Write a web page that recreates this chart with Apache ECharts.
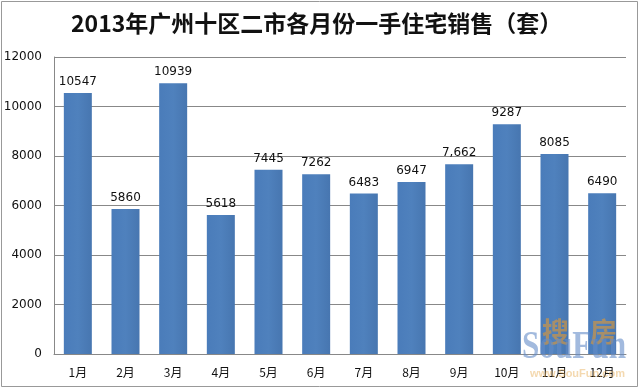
<!DOCTYPE html>
<html><head><meta charset="utf-8">
<script src="https://cdn.jsdelivr.net/npm/echarts@6/dist/echarts.min.js"></script>
<style>html,body{margin:0;padding:0;background:#fff}#c{width:640px;height:389px}</style>
</head><body><div id="c"></div>
<script>
const titleText = '2013年广州十区二市各月份一手住宅销售（套）';
const categories = ['1月','2月','3月','4月','5月','6月','7月','8月','9月','10月','11月','12月'];
const sales = [10547, 5860, 10939, 5618, 7445, 7262, 6483, 6947, 7662, 9287, 8085, 6490];
const valueLabels = ['10547','5860','10939','5618','7445','7262','6483','6947','7,662','9287','8085','6490'];
const yTicks = [0, 2000, 4000, 6000, 8000, 10000, 12000];

const chart = echarts.init(document.getElementById('c'));
chart.setOption({
  backgroundColor: '#fff',
  animation: false,
  title: {
    text: titleText, left: 66, top: 7,
    textStyle: {fontFamily: '"Noto Sans CJK SC", sans-serif', fontWeight: 'bold', fontSize: 23, color: '#111'}
  },
  grid: {left: 54, right: 14, top: 57, bottom: 35},
  xAxis: {
    type: 'category', data: categories,
    axisLine: {lineStyle: {color: '#888'}},
    axisTick: {show: false},
    axisLabel: {color: '#111', fontSize: 12, margin: 12, fontFamily: '"Noto Sans CJK SC", sans-serif'}
  },
  yAxis: {
    type: 'value', min: yTicks[0], max: yTicks[yTicks.length-1], interval: 2000,
    axisLine: {show: true, lineStyle: {color: '#888'}},
    axisTick: {show: false},
    axisLabel: {color: '#111', fontSize: 12, margin: 12, fontFamily: '"DejaVu Sans", sans-serif',
      formatter: v => String(v)},
    splitLine: {lineStyle: {color: '#888'}}
  },
  series: [{
    type: 'bar', data: sales, barWidth: 28,
    itemStyle: {color: new echarts.graphic.LinearGradient(0,0,1,0,[
      {offset:0,color:'#4a7cba'},{offset:0.5,color:'#4f81bd'},{offset:1,color:'#4776b0'}])},
    label: {show: true, position: 'top', distance: 5, color: '#111', fontSize: 12,
      fontFamily: '"DejaVu Sans", sans-serif',
      formatter: p => valueLabels[p.dataIndex]}
  }],
  graphic: [
    {type: 'rect', z: 100, shape: {x: 1.5, y: 1.5, width: 636, height: 385},
     style: {fill: 'none', stroke: '#999', lineWidth: 1}},
    {type: 'text', z: 100, x: 542, y: 318, style: {text: '搜', fill: 'rgba(215,150,60,0.65)', font: 'bold 27px "Noto Sans CJK SC"'}},
    {type: 'text', z: 100, x: 590, y: 318, style: {text: '房', fill: 'rgba(215,150,60,0.65)', font: 'bold 27px "Noto Sans CJK SC"'}},
    {type: 'text', z: 100, x: 522, y: 328, scaleX: 0.78, style: {text: 'SouFun', fill: 'rgba(100,140,200,0.6)', font: 'bold 40px "Liberation Serif"'}},
    {type: 'text', z: 100, x: 530, y: 368, style: {text: 'www.SouFun.com', fill: 'rgba(230,170,80,0.45)', font: 'bold 11px "Liberation Sans"'}}
  ]
});
</script></body></html>
